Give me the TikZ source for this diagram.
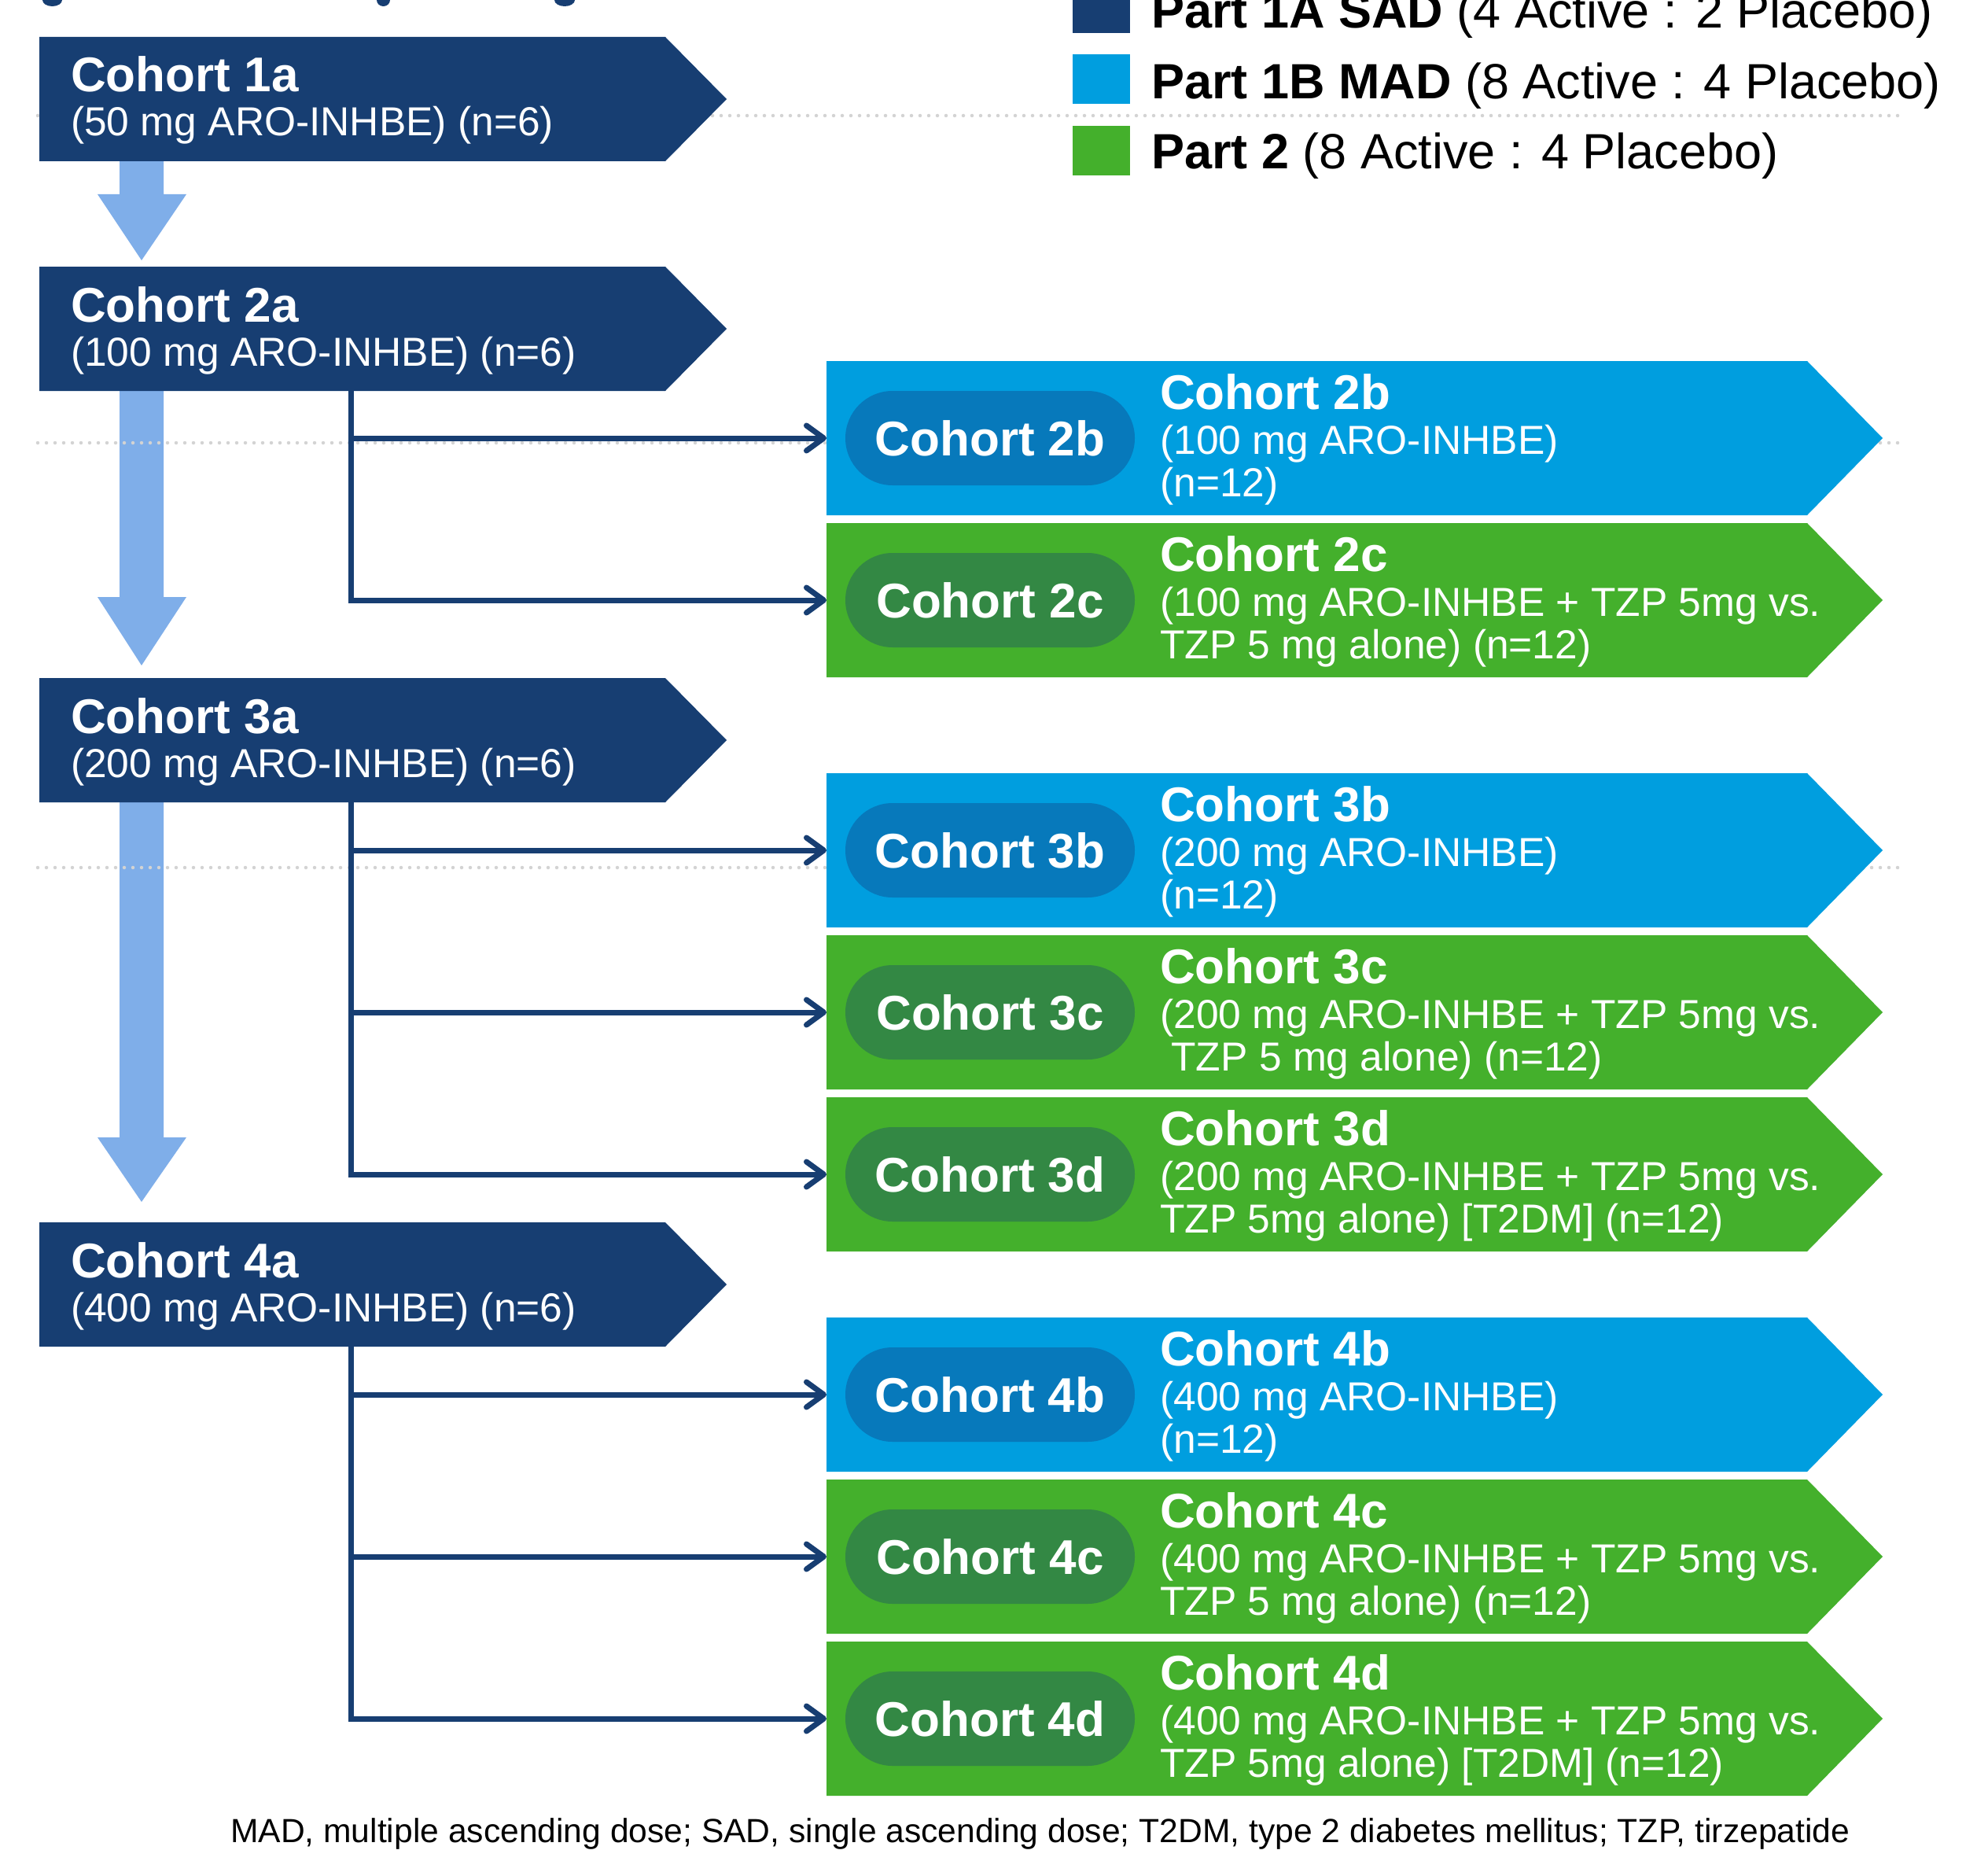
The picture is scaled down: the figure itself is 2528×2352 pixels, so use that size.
\documentclass[tikz,border=0pt]{standalone}
\usepackage{fontspec}
\setmainfont{Liberation Sans}
\usetikzlibrary{arrows.meta}
\definecolor{navy}{HTML}{173E72}
\definecolor{mblue}{HTML}{009EDF}
\definecolor{pblue}{HTML}{0779BB}
\definecolor{mgreen}{HTML}{44B02C}
\definecolor{pgreen}{HTML}{338844}
\definecolor{lblue}{HTML}{7FAEE9}
\definecolor{dotgray}{HTML}{D3D3D3}
\newcommand\fs[1]{\fontsize{#1}{#1}\selectfont}
\newcommand\leftbox[4]{%
  \fill[navy] (50,#2) -- (846,#2) -- (924,#2+79) -- (846,#2+158) -- (50,#2+158) -- cycle;
  \node[lttl] (#1t) at (90,#2+70) {#3};
  \node[lsub] (#1s) at (90,#2+126) {#4};
  \coordinate (#1) at (446.6,#2+158);
}
\newcommand\rightbox[7]{%
  \fill[#3] (1051,#2) -- (2298,#2) -- (2394,#2+98) -- (2298,#2+196) -- (1051,#2+196) -- cycle;
  \node[pill, fill=#4] (#1p) at (1259,#2+98) {#5};
  \node[rttl] (#1t) at (1475,#2+61) {#5};
  \node[rsub] (#1a) at (1475,#2+118) {#6};
  \node[rsub] (#1b) at (1475,#2+172) {#7};
  \coordinate (#1) at (1051,#2+98);
}
\newcommand\bigarrow[3]{%
  \fill[lblue] (152,#1) -- (208,#1) -- (208,#2) -- (237,#2) -- (180,#3) -- (124,#2) -- (152,#2) -- cycle;
}
\begin{document}
\begin{tikzpicture}[x=1pt,y=-1pt,
  lttl/.style={anchor=base west, inner sep=0pt, text=white, font=\bfseries\fs{62}},
  lsub/.style={anchor=base west, inner sep=0pt, text=white, font=\fs{51.5}},
  rttl/.style={anchor=base west, inner sep=0pt, text=white, font=\bfseries\fs{62}},
  rsub/.style={anchor=base west, inner sep=0pt, text=white, font=\fs{51.5}},
  pill/.style={rectangle, rounded corners=60pt, minimum width=368pt, minimum height=120pt, inner sep=0pt, text=white, font=\bfseries\fs{62}},
  conn/.style={draw=navy, line width=7pt, -{Straight Barb[length=22pt,width=32pt,round]}},
  dotline/.style={draw=dotgray, line width=4.5pt, line cap=round, dash pattern=on 0pt off 11pt},
  legtxt/.style={anchor=base west, inner sep=0pt, text=black, font=\fs{63}},
]
\useasboundingbox (0,0) rectangle (2528,2352);
\fill[white] (0,0) rectangle (2528,2352);
% title descender fragments (cut off at top)
\fill[navy] (66.5,0) ellipse [x radius=12.5, y radius=8];
\fill[navy] (487.5,0) ellipse [x radius=8.5, y radius=8];
\fill[navy] (718,0) ellipse [x radius=13, y radius=8];
% light blue progression arrows
\bigarrow{205}{247}{331}
\bigarrow{497}{759}{846}
\bigarrow{1020}{1446}{1528}
% dotted separators
\draw[dotline] (48,147) -- (2418,147);
\draw[dotline] (48,563) -- (2418,563);
\draw[dotline] (48,1103) -- (2418,1103);
% left boxes
\leftbox{c1a}{47}{Cohort 1a}{(50 mg ARO-INHBE) (n=6)}
\leftbox{c2a}{339}{Cohort 2a}{(100 mg ARO-INHBE) (n=6)}
\leftbox{c3a}{862}{Cohort 3a}{(200 mg ARO-INHBE) (n=6)}
\leftbox{c4a}{1554}{Cohort 4a}{(400 mg ARO-INHBE) (n=6)}
% right boxes
\rightbox{c2b}{459}{mblue}{pblue}{Cohort 2b}{(100 mg ARO-INHBE)}{(n=12)}
\rightbox{c2c}{665}{mgreen}{pgreen}{Cohort 2c}{(100 mg ARO-INHBE + TZP 5mg vs.}{TZP 5 mg alone) (n=12)}
\rightbox{c3b}{983}{mblue}{pblue}{Cohort 3b}{(200 mg ARO-INHBE)}{(n=12)}
\rightbox{c3c}{1189}{mgreen}{pgreen}{Cohort 3c}{(200 mg ARO-INHBE + TZP 5mg vs.}{\ TZP 5 mg alone) (n=12)}
\rightbox{c3d}{1395}{mgreen}{pgreen}{Cohort 3d}{(200 mg ARO-INHBE + TZP 5mg vs.}{TZP 5mg alone) [T2DM] (n=12)}
\rightbox{c4b}{1675}{mblue}{pblue}{Cohort 4b}{(400 mg ARO-INHBE)}{(n=12)}
\rightbox{c4c}{1881}{mgreen}{pgreen}{Cohort 4c}{(400 mg ARO-INHBE + TZP 5mg vs.}{TZP 5 mg alone) (n=12)}
\rightbox{c4d}{2087}{mgreen}{pgreen}{Cohort 4d}{(400 mg ARO-INHBE + TZP 5mg vs.}{TZP 5mg alone) [T2DM] (n=12)}
% connectors
\draw[conn] (c2a) |- (c2b);
\draw[conn] (c2a) |- (c2c);
\draw[conn] (c3a) |- (c3b);
\draw[conn] (c3a) |- (c3c);
\draw[conn] (c3a) |- (c3d);
\draw[conn] (c4a) |- (c4b);
\draw[conn] (c4a) |- (c4c);
\draw[conn] (c4a) |- (c4d);
% legend
\fill[navy] (1364,-21) rectangle (1437,42);
\fill[mblue] (1364,69) rectangle (1437,132);
\fill[mgreen] (1364,160) rectangle (1437,223);
\node[legtxt] (leg1) at (1464,36) {\textbf{Part 1A SAD} (4 Active : 2 Placebo)};
\node[legtxt] (leg2) at (1464,126) {\textbf{Part 1B MAD} (8 Active : 4 Placebo)};
\node[legtxt] (leg3) at (1464,215) {\textbf{Part 2} (8 Active : 4 Placebo)};
% footnote
\node[anchor=base west, inner sep=0pt, font=\fs{42.6}] (foot) at (293,2342) {MAD, multiple ascending dose; SAD, single ascending dose; T2DM, type 2 diabetes mellitus; TZP, tirzepatide};
\end{tikzpicture}
\end{document}
